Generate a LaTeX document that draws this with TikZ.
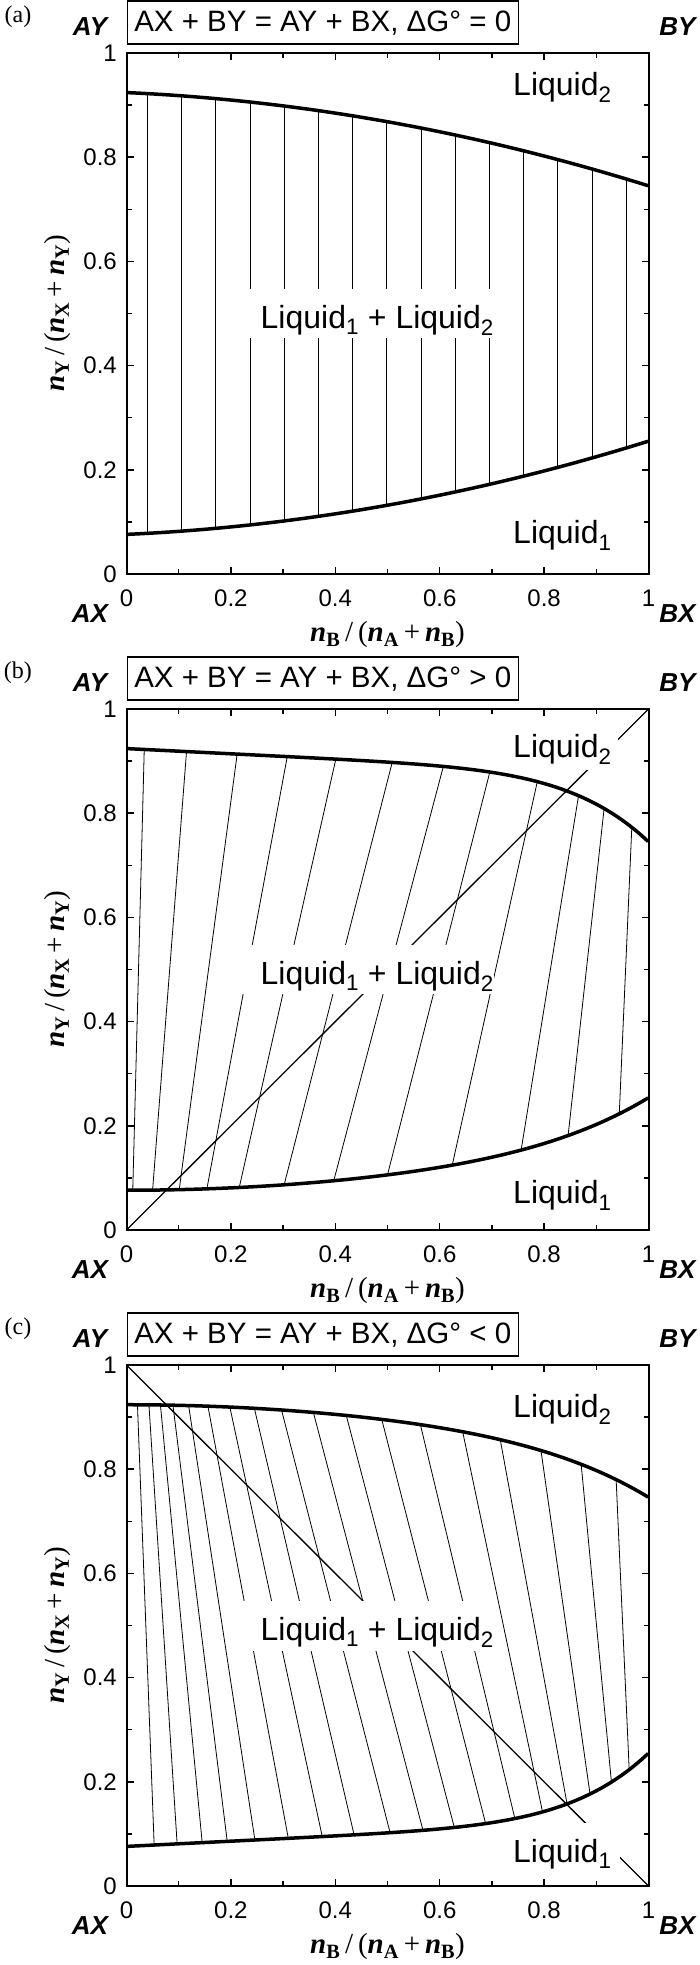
\documentclass[tikz,border=0pt]{standalone}
\usepackage{fontspec}
\setmainfont{Liberation Serif}
\newfontfamily\arial{Liberation Sans}
\newfontfamily\tnr{Liberation Serif}
\newcommand\fsz[1]{\fontsize{#1}{#1}\selectfont}
\newcommand\nv[1]{\textbf{\textit{n}}\textsubscript{\textbf{#1}}}
\newcommand\Lq[1]{Liquid\textsubscript{#1}}
\tikzset{
  declare function={
    lowa(\x)=0.076+0.045*\x+0.134*\x*\x;
    upa(\x)=0.924-0.045*\x-0.134*\x*\x;
    lowb(\x)=0.0763+0.1141*\x^2+0.0636*\x^6;
    upb(\x)=0.924-0.05*\x-0.129*\x^7;
    upc(\x)=0.9237-0.1141*\x^2-0.0636*\x^6;
    lowc(\x)=0.076+0.05*\x+0.129*\x^7;
  },
  frame/.style={line width=2pt},
  tickmark/.style={line width=1.5pt},
  phase/.style={line width=3.5pt, line join=round},
  tie/.style={line width=0.8pt},
  diag/.style={line width=1.3pt},
  lbl/.style={font=\arial\fsz{32}, fill=white, inner xsep=6pt, inner ysep=5pt, text height=23.5pt, text depth=7.5pt, anchor=base west},
  lbltext/.style={font=\arial\fsz{32}, inner sep=0pt, anchor=base west},
  ticklbl/.style={font=\arial\fsz{24}, inner sep=0pt},
  corner/.style={font=\arial\bfseries\itshape\fsz{26}, inner sep=0pt},
  titlebox/.style={draw, line width=1.5pt, font=\arial\fsz{29.5}, inner sep=0pt, minimum width=391pt, minimum height=43pt, anchor=south west},
  letter/.style={font=\tnr\fsz{24}, inner sep=0pt},
  axlbl/.style={font=\tnr\fsz{29}, inner sep=0pt},
}
\newcommand\panelbase[2]{%
  \draw[frame] (0,0) rectangle (1,1);
  \foreach \t in {0.2,0.4,0.6,0.8}{
    \draw[tickmark] (\t,0) -- ++(0,7pt);
    \draw[tickmark] (\t,1) -- ++(0,-7pt);
    \draw[tickmark] (0,\t) -- ++(7pt,0);
    \draw[tickmark] (1,\t) -- ++(-7pt,0);
  }
  \foreach \t in {0.1,0.3,0.5,0.7,0.9}{
    \draw[tickmark] (\t,0) -- ++(0,5pt);
    \draw[tickmark] (\t,1) -- ++(0,-5pt);
    \draw[tickmark] (0,\t) -- ++(5pt,0);
    \draw[tickmark] (1,\t) -- ++(-5pt,0);
  }
  \foreach \l [count=\i] in {0,0.2,0.4,0.6,0.8,1}{
    \node[ticklbl] (xt#1\i) at (\l,-0.046) {\l};
    \node[ticklbl, anchor=east] (yt#1\i) at (-0.0182,\l) {\l};
  }
  \node[corner] (ay#1) at (-0.0699,1.0499) {AY};
  \node[corner] (by#1) at (1.0556,1.0499) {BY};
  \node[corner] (ax#1) at (-0.0699,-0.0768) {AX};
  \node[corner] (bx#1) at (1.0556,-0.0768) {BX};
  \node[letter] (let#1) at (-0.2079,1.0691) {(#1)};
  \node[titlebox] (ttl#1) at (0,1.0154) {AX + BY = AY + BX, ΔG° #2 0};
  \node[axlbl] (xl#1) at (0.5,-0.116) {\nv{B}\,/\,(\nv{A}\,+\,\nv{B})};
  \node[axlbl, rotate=90] (yl#1) at (-0.133,0.5) {\nv{Y}\,/\,(\nv{X}\,+\,\nv{Y})};
}
\newcommand\midlabel[1]{%
  \fill[white] (0.2197,0.452) rectangle (0.704,0.547);
  \node[lbltext] (mid#1) at (0.2567,0.472) {\Lq{1} + \Lq{2}};
}
\begin{document}
\begin{tikzpicture}[x=1pt,y=1pt]
\useasboundingbox (0,0) rectangle (700,1965);
% ---------- panel (a)
\begin{scope}[shift={(126.5pt,1391pt)}, x=522pt, y=521pt]
  \foreach \k in {0,...,14}{
    \pgfmathsetmacro\xx{0.04+0.0655*\k}
    \draw[tie] (\xx,{lowa(\xx)}) -- (\xx,{upa(\xx)});
  }
  \midlabel{a}
  \node[lbl] (l2a) at (0.729,0.919) {\Lq{2}};
  \node[lbl] (l1a) at (0.729,0.059) {\Lq{1}};
  \draw[phase] plot[domain=0:1,samples=60] (\x,{lowa(\x)});
  \draw[phase] plot[domain=0:1,samples=60] (\x,{upa(\x)});
  \panelbase{a}{=}
\end{scope}
% ---------- panel (b)
\begin{scope}[shift={(126.5pt,735pt)}, x=522pt, y=521pt]
  \foreach \a/\b in {0.012/0.034,0.050/0.115,0.101/0.212,0.154/0.308,0.216/0.401,0.302/0.509,0.397/0.607,0.500/0.696,0.624/0.787,0.756/0.866,0.846/0.915,0.944/0.968}{
    \draw[tie] (\a,{lowb(\a)}) -- (\b,{upb(\b)});
  }
  \draw[diag] (0,0) -- (1,1);
  \midlabel{b}
  \node[lbl, text height=17pt] (l2b) at (0.729,0.907) {\Lq{2}};
  \node[lbl] (l1b) at (0.729,0.05) {\Lq{1}};
  \draw[phase] plot[domain=0:1,samples=80] (\x,{lowb(\x)});
  \draw[phase] plot[domain=0:1,samples=80] (\x,{upb(\x)});
  \panelbase{b}{>}
\end{scope}
% ---------- panel (c)
\begin{scope}[shift={(126.5pt,79pt)}, x=522pt, y=521pt]
  \foreach \a/\b in {0.021/0.053,0.043/0.097,0.065/0.145,0.089/0.193,0.119/0.246,0.156/0.310,0.198/0.375,0.245/0.436,0.297/0.505,0.358/0.568,0.421/0.628,0.489/0.688,0.563/0.744,0.644/0.797,0.716/0.844,0.794/0.888,0.871/0.929,0.938/0.963}{
    \draw[tie] (\a,{upc(\a)}) -- (\b,{lowc(\b)});
  }
  \draw[diag] (0,1) -- (1,0);
  \midlabel{c}
  \node[lbl] (l2c) at (0.729,0.90) {\Lq{2}};
  \node[lbl, text height=34pt, inner xsep=8pt] (l1c) at (0.725,0.046) {\Lq{1}};
  \draw[phase] plot[domain=0:1,samples=80] (\x,{lowc(\x)});
  \draw[phase] plot[domain=0:1,samples=80] (\x,{upc(\x)});
  \panelbase{c}{<}
\end{scope}
\end{tikzpicture}
\end{document}
